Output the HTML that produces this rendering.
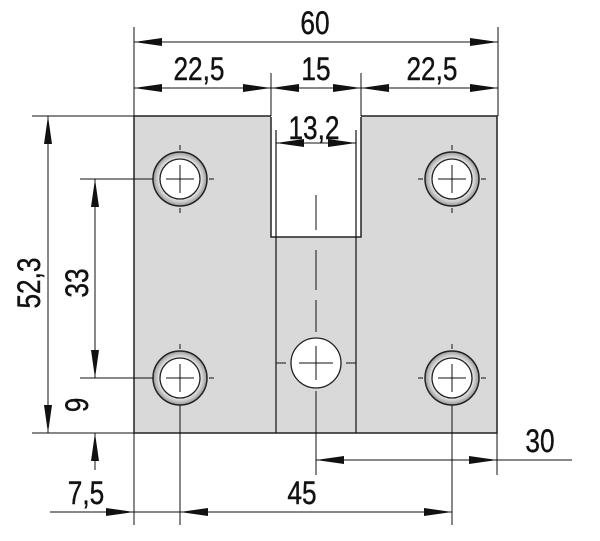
<!DOCTYPE html>
<html><head><style>body{margin:0;background:#fff}svg{display:block}</style></head><body>
<svg width="600" height="541" viewBox="0 0 600 541" xmlns="http://www.w3.org/2000/svg">
<defs>
<radialGradient id="ring" cx="0.5" cy="0.5" r="0.5">
<stop offset="0.72" stop-color="#f4f4f4"/><stop offset="1" stop-color="#999"/>
</radialGradient>
</defs>
<g stroke="#111" stroke-width="1.2" fill="none">
<rect x="134" y="116" width="363" height="317" fill="#d9d9d9" stroke="#222" stroke-width="1.5"/>
<rect x="271" y="116" width="90" height="121" fill="#fff" stroke="#222" stroke-width="1.5"/>
<line x1="276" y1="130" x2="276" y2="433"/><line x1="356" y1="130" x2="356" y2="433"/>
<line x1="271" y1="116" x2="361" y2="116" stroke="#fff" stroke-width="2"/>
</g>
<g stroke="#111" stroke-width="1">
<g transform="translate(180,179)"><circle r="27" fill="url(#ring)" stroke="#222" stroke-width="1.5"/><circle r="20" fill="#fff" stroke="#222" stroke-width="1.3"/><path d="M-14 0H14M0 -14V14M0 -34V-29M0 29V34M29 0H34" fill="none"/></g>
<g transform="translate(452,179)"><circle r="27" fill="url(#ring)" stroke="#222" stroke-width="1.5"/><circle r="20" fill="#fff" stroke="#222" stroke-width="1.3"/><path d="M-14 0H14M0 -14V14M0 -34V-29M0 29V34M-34 0H-29M29 0H34" fill="none"/></g>
<g transform="translate(180,378)"><circle r="27" fill="url(#ring)" stroke="#222" stroke-width="1.5"/><circle r="20" fill="#fff" stroke="#222" stroke-width="1.3"/><path d="M-14 0H14M0 -14V14M0 -34V-29M29 0H34" fill="none"/></g>
<g transform="translate(452,378)"><circle r="27" fill="url(#ring)" stroke="#222" stroke-width="1.5"/><circle r="20" fill="#fff" stroke="#222" stroke-width="1.3"/><path d="M-14 0H14M0 -14V14M0 -34V-29M0 29V34M-34 0H-29M29 0H34" fill="none"/></g>
<g transform="translate(316,363)"><circle r="25" fill="#fff" stroke="#222" stroke-width="1.3"/><path d="M-17 0H17M0 -17V17M-40 0H-30M30 0H40" fill="none"/></g>
<path d="M316 195V230M316 250V290M316 300V332" fill="none"/>
</g>
<g stroke="#111" stroke-width="1" fill="none">
<path d="M134 27V116M498 27V116M271 73V116M361 73V116"/>
<path d="M134 42H498M134 88H498"/>
<path d="M276 143H356"/>
<path d="M32 116H134M32 433H134M80 179H153M80 378H153"/>
<path d="M48 116V433M95 179V378M95 350V378M95 433V470"/>
<path d="M497 433V475M316 391V475M316 460H572M180 405V525M134 433V525M452 405V525M452 472V490"/>
<path d="M50 512H452"/>
</g>
<g fill="#111">
<path d="M134 42l28 -4v8zM498 42l-28 -4v8z"/>
<path d="M134 88l28 -4v8zM271 88l-28 -4v8zM271 88l28 -4v8zM361 88l-28 -4v8zM361 88l28 -4v8zM498 88l-28 -4v8z"/>
<path d="M276 143l28 -4v8zM356 143l-28 -4v8z"/>
<path d="M48 116l-4 28h8zM48 433l-4 -28h8z"/>
<path d="M95 179l-4 28h8zM95 378l-4 -28h8zM95 433l-4 28h8z"/>
<path d="M316 460l28 -4v8zM497 460l-28 -4v8z"/>
<path d="M134 512l-28 -4v8zM180 512l28 -4v8zM452 512l-28 -4v8z"/>
</g>
<g font-family="Liberation Sans, sans-serif" font-size="32" fill="#111" text-anchor="middle" stroke="#111" stroke-width="0.4">
<text transform="translate(315,34) scale(0.82,1)">60</text>
<text transform="translate(199,80) scale(0.82,1)">22,5</text>
<text transform="translate(316,80) scale(0.82,1)">15</text>
<text transform="translate(432,80) scale(0.82,1)">22,5</text>
<text transform="translate(314,139) scale(0.82,1)">13,2</text>
<text transform="translate(40,283) rotate(-90) scale(0.82,1)">52,3</text>
<text transform="translate(88,283) rotate(-90) scale(0.82,1)">33</text>
<text transform="translate(88,405) rotate(-90) scale(0.82,1)">9</text>
<text transform="translate(86,504) scale(0.82,1)">7,5</text>
<text transform="translate(302,504) scale(0.82,1)">45</text>
<text transform="translate(540,452) scale(0.82,1)">30</text>
</g>
</svg>
</body></html>
